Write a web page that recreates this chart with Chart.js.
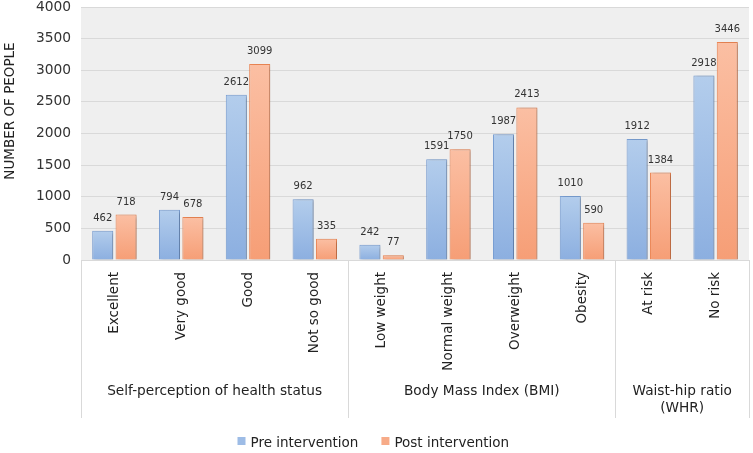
<!DOCTYPE html>
<html>
<head>
<meta charset="utf-8">
<script src="https://cdn.jsdelivr.net/npm/chart.js@4/dist/chart.umd.min.js"></script>
<style>
html,body{margin:0;padding:0;background:#fff;}
#wrap{width:753px;height:453px;}
</style>
</head>
<body>
<div id="wrap"><canvas id="c" width="753" height="453"></canvas></div>
<script>
const categories = ['Excellent','Very good','Good','Not so good','Low weight','Normal weight','Overweight','Obesity','At risk','No risk'];
const preValues  = [462, 794, 2612, 962, 242, 1591, 1987, 1010, 1912, 2918];
const postValues = [718, 678, 3099, 335, 77, 1750, 2413, 590, 1384, 3446];
const groupLabels = [['Self-perception of health status'], ['Body Mass Index (BMI)'], ['Waist-hip ratio', '(WHR)']];
const groupSizes = [4, 4, 2];
const seriesNames = ['Pre intervention', 'Post intervention'];
const yTicks = [0, 500, 1000, 1500, 2000, 2500, 3000, 3500, 4000];
const yTitle = 'NUMBER OF PEOPLE';

const FONT = '"DejaVu Sans", Verdana, sans-serif';

function barGradient(top, bottom) {
  return function(ctx) {
    const chart = ctx.chart;
    if (!chart.chartArea || ctx.raw === undefined) return top;
    const y = chart.scales.y;
    const y0 = y.getPixelForValue(ctx.raw);
    const y1 = y.getPixelForValue(0);
    if (!(y1 > y0)) return top;
    const g = chart.ctx.createLinearGradient(0, y0, 0, y1);
    g.addColorStop(0, top);
    g.addColorStop(1, bottom);
    return g;
  };
}

const decor = {
  id: 'decor',
  beforeDraw(chart) {
    const {ctx, chartArea: a} = chart;
    ctx.save();
    ctx.fillStyle = '#ffffff';
    ctx.fillRect(0, 0, chart.width, chart.height);
    ctx.fillStyle = '#efefef';
    ctx.fillRect(a.left, a.top, a.right - a.left, a.bottom - a.top);
    ctx.restore();
  },
  beforeDatasetsDraw(chart) {
    const ctx = chart.ctx;
    ctx.save();
    ctx.shadowColor = 'rgba(0,0,0,0.28)';
    ctx.shadowBlur = 3;
    ctx.shadowOffsetX = 2;
    ctx.shadowOffsetY = 1;
  },
  afterDatasetsDraw(chart) {
    const ctx = chart.ctx;
    ctx.restore();
    ctx.save();
    ctx.font = '10px ' + FONT;
    ctx.fillStyle = '#333333';
    ctx.textAlign = 'center';
    ctx.textBaseline = 'middle';
    chart.data.datasets.forEach((ds, di) => {
      const meta = chart.getDatasetMeta(di);
      meta.data.forEach((bar, i) => {
        ctx.fillText(String(ds.data[i]), bar.x, bar.y - 12.5);
      });
    });
    ctx.restore();
  },
  afterDraw(chart) {
    const {ctx, chartArea: a, scales: {x}} = chart;
    const half = (x.getPixelForValue(1) - x.getPixelForValue(0)) / 2;
    ctx.save();
    // y-axis title
    ctx.save();
    ctx.translate(10, 111);
    ctx.rotate(-Math.PI / 2);
    ctx.font = '13.5px ' + FONT;
    ctx.fillStyle = '#222222';
    ctx.textAlign = 'center';
    ctx.textBaseline = 'middle';
    ctx.fillText(yTitle, 0, 0);
    ctx.restore();
    // separators of category label area
    ctx.strokeStyle = '#d9d9d9';
    ctx.lineWidth = 1;
    const bounds = [0];
    let acc = 0;
    groupSizes.forEach(n => { acc += n; bounds.push(acc); });
    bounds.forEach(b => {
      const px = Math.round(x.getPixelForValue(b) - half) + 0.5;
      ctx.beginPath();
      ctx.moveTo(px, a.bottom);
      ctx.lineTo(px, a.bottom + 158);
      ctx.stroke();
    });
    ctx.font = '13.7px ' + FONT;
    ctx.fillStyle = '#222222';
    ctx.textAlign = 'center';
    ctx.textBaseline = 'middle';
    groupLabels.forEach((lines, gi) => {
      const start = bounds[gi], end = bounds[gi + 1] - 1;
      const cx = (x.getPixelForValue(start) + x.getPixelForValue(end)) / 2;
      lines.forEach((ln, li) => {
        ctx.fillText(ln, cx, a.bottom + 131 + li * 17);
      });
    });
    // legend
    const colors = ['#9dbce6', '#f7ab88'];
    ctx.font = '13.5px ' + FONT;
    ctx.textAlign = 'left';
    const box = 8, gapText = 5, gapItem = 23;
    const widths = seriesNames.map(s => box + gapText + ctx.measureText(s).width);
    let lx = 237.5;
    seriesNames.forEach((s, i) => {
      ctx.fillStyle = colors[i];
      ctx.fillRect(lx, 437, box, box);
      ctx.fillStyle = '#222222';
      ctx.fillText(s, lx + box + gapText, 443);
      lx += widths[i] + gapItem;
    });
    ctx.restore();
  }
};

new Chart(document.getElementById('c'), {
  type: 'bar',
  data: {
    labels: categories,
    datasets: [
      {
        label: seriesNames[0],
        data: preValues,
        backgroundColor: barGradient('#b3cdec', '#8cafe0'),
        borderColor: '#7a9fd3',
        borderWidth: 1,
        categoryPercentage: 0.7,
        barPercentage: 0.9
      },
      {
        label: seriesNames[1],
        data: postValues,
        backgroundColor: barGradient('#fbbfa3', '#f69e76'),
        borderColor: '#ec8654',
        borderWidth: 1,
        categoryPercentage: 0.7,
        barPercentage: 0.9
      }
    ]
  },
  options: {
    responsive: false,
    animation: false,
    devicePixelRatio: 1,
    layout: { padding: { top: 7, right: 4, left: 0, bottom: 0 } },
    plugins: {
      legend: { display: false },
      tooltip: { enabled: false }
    },
    scales: {
      x: {
        grid: { display: false, drawTicks: false },
        border: { display: false },
        ticks: {
          autoSkip: false,
          maxRotation: 90,
          minRotation: 90,
          padding: 12,
          color: '#222222',
          font: { family: FONT, size: 13.5 }
        },
        afterFit(scale) { scale.height = 193; scale.paddingLeft = 0; scale.paddingRight = 0; }
      },
      y: {
        min: 0,
        max: 4000,
        afterBuildTicks(scale) { scale.ticks = yTicks.map(v => ({ value: v })); },
        grid: { color: '#d9d9d9', drawTicks: false },
        border: { display: false },
        ticks: {
          padding: 10,
          color: '#333333',
          font: { family: FONT, size: 13.8 },
          callback: (v) => String(v)
        },
        title: { display: false },
        afterFit(scale) { scale.width = 81; scale.paddingTop = 0; scale.paddingBottom = 0; }
      }
    }
  },
  plugins: [decor]
});
</script>
</body>
</html>
